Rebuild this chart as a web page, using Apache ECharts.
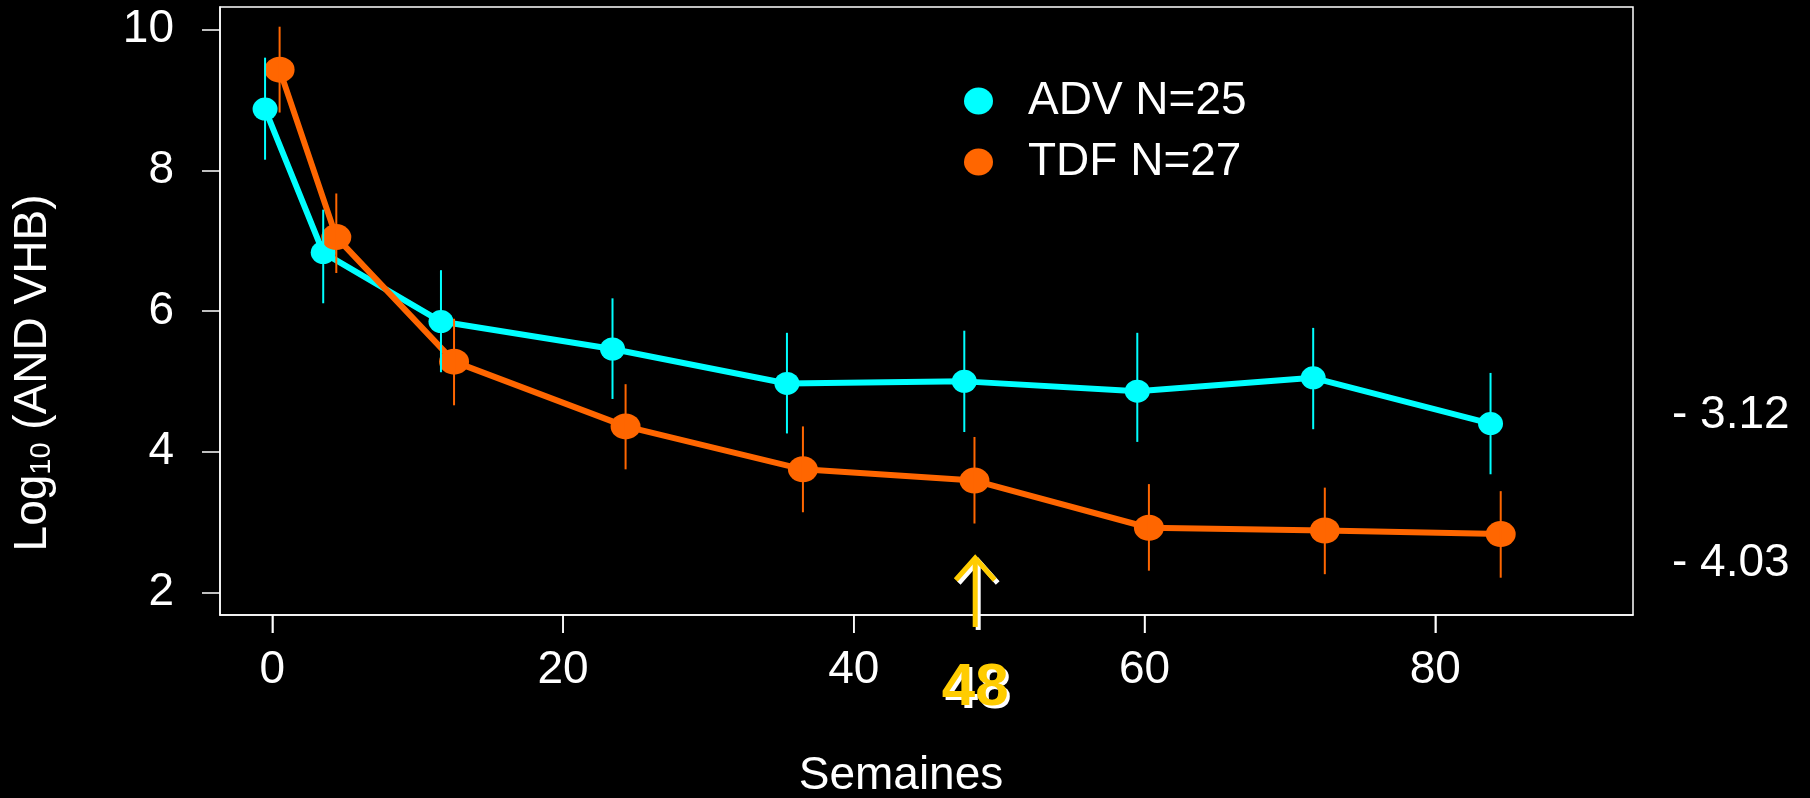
<!DOCTYPE html>
<html>
<head>
<meta charset="utf-8">
<script src="https://cdn.jsdelivr.net/npm/echarts@6/dist/echarts.min.js"></script>
<style>
  html, body { margin: 0; padding: 0; background: #000; }
  #chart { width: 1810px; height: 798px; }
</style>
</head>
<body>
<div id="chart"></div>
<script>
// Axis ticks
const weekTicks = [0, 20, 40, 60, 80];
const logTicks = [2, 4, 6, 8, 10];

// ADV arm: weeks (slightly dodged left), mean log10 HBV DNA, error bar ends
const advWeeks = [-0.5, 3.5, 11.6, 23.4, 35.4, 47.6, 59.5, 71.6, 83.8];
const advMean  = [8.87, 6.83, 5.85, 5.46, 4.97, 5.00, 4.86, 5.05, 4.40];
const advLow   = [8.15, 6.11, 5.13, 4.75, 4.26, 4.28, 4.14, 4.32, 3.68];
const advHigh  = [9.60, 7.44, 6.58, 6.18, 5.69, 5.72, 5.69, 5.76, 5.12];

// TDF arm: weeks (slightly dodged right), mean log10 HBV DNA, error bar ends
const tdfWeeks = [0.5, 4.4, 12.5, 24.3, 36.5, 48.3, 60.3, 72.4, 84.5];
const tdfMean  = [9.43, 7.05, 5.28, 4.36, 3.75, 3.59, 2.92, 2.88, 2.83];
const tdfLow   = [8.82, 6.54, 4.66, 3.75, 3.14, 2.98, 2.31, 2.26, 2.21];
const tdfHigh  = [10.04, 7.67, 5.89, 4.96, 4.36, 4.21, 3.54, 3.49, 3.44];

// Series names
const advName = 'ADV N=25';
const tdfName = 'TDF N=27';

// Overall decline per arm, written beside the plot at these log levels
const declineTexts  = ['- 3.12', '- 4.03'];
const declineLevels = [4.52, 2.41];

// Week 48 marker
const markWeek = 48;
const markArrowX = 48.35;
const markArrowTop = 2.49;
const markArrowBase = 1.51;
const markLabelLevel = 0.63;

const CYAN = '#00FFFF';
const ORANGE = '#FF6600';
const YELLOW = '#FFCC00';
const FONT = '"Liberation Sans", Arial, Helvetica, sans-serif';
const ELLIPSE = 'path://M0,50A50,50,0,1,1,100,50A50,50,0,1,1,0,50Z';
const Y_MIN = 1.68;
const Y_MAX = 10.32;
const TICK_LEN = 18;

const pairs = (xs, ys) => xs.map((x, i) => [x, ys[i]]);
const ranges = (xs, lo, hi) => xs.map((x, i) => [x, lo[i], hi[i]]);

function errorBars(name, xs, lo, hi, color) {
  return {
    type: 'custom',
    name: name,
    data: ranges(xs, lo, hi),
    encode: { x: 0, y: [1, 2] },
    z: 5,
    silent: true,
    clip: false,
    renderItem: function (params, api) {
      const a = api.coord([api.value(0), api.value(1)]);
      const b = api.coord([api.value(0), api.value(2)]);
      return {
        type: 'line',
        shape: { x1: a[0], y1: a[1], x2: b[0], y2: b[1] },
        style: { stroke: color, lineWidth: 2 }
      };
    }
  };
}

// Outward week ticks hanging under the frame
function weekTickSeries() {
  return {
    type: 'custom',
    name: 'semaines ticks',
    data: weekTicks.map((w) => [w, Y_MIN]),
    encode: { x: 0, y: 1 },
    z: 6,
    silent: true,
    clip: false,
    renderItem: function (params, api) {
      const p = api.coord([api.value(0), api.value(1)]);
      return {
        type: 'line',
        shape: { x1: p[0], y1: p[1], x2: p[0], y2: p[1] + TICK_LEN },
        style: { stroke: '#ffffff', lineWidth: 1.5 }
      };
    }
  };
}

function lineSeries(name, xs, ys, color, size, z) {
  return {
    type: 'line',
    name: name,
    data: pairs(xs, ys),
    symbol: ELLIPSE,
    symbolSize: size,
    showSymbol: true,
    showAllSymbol: true,
    clip: false,
    z: z,
    lineStyle: { color: color, width: 6 },
    itemStyle: { color: color, borderWidth: 0 },
    emphasis: { disabled: true }
  };
}

const axisLineStyle = { color: '#ffffff', width: 1.5 };

const chart = echarts.init(document.getElementById('chart'), null, { renderer: 'canvas' });

chart.setOption({
  backgroundColor: '#000',
  animation: false,
  grid: {
    left: 220, right: 177, top: 7, bottom: 183,
    show: true, borderColor: '#ffffff', borderWidth: 1.5,
    backgroundColor: 'transparent'
  },
  legend: {
    orient: 'vertical',
    left: 959,
    top: 69,
    itemWidth: 29,
    itemHeight: 27,
    itemGap: 7,
    symbolKeepAspect: false,
    selectedMode: false,
    data: [{ name: advName, icon: ELLIPSE }, { name: tdfName, icon: ELLIPSE }],
    textStyle: { color: '#fff', fontSize: 46, fontFamily: FONT, lineHeight: 46, padding: [8, 0, 0, 30] }
  },
  xAxis: {
    type: 'value',
    position: 'bottom',
    min: -3.6,
    max: 93.6,
    splitLine: { show: false },
    axisLine: { show: true, onZero: false, lineStyle: axisLineStyle },
    axisTick: { show: true, inside: false, customValues: weekTicks, length: TICK_LEN, lineStyle: axisLineStyle },
    axisLabel: { customValues: weekTicks, color: '#fff', fontSize: 46, fontFamily: FONT, margin: 32 }
  },
  yAxis: {
    type: 'value',
    position: 'left',
    min: Y_MIN,
    max: Y_MAX,
    splitLine: { show: false },
    axisLine: { show: true, onZero: false, lineStyle: axisLineStyle },
    axisTick: { show: true, inside: false, customValues: logTicks, length: TICK_LEN, lineStyle: axisLineStyle },
    axisLabel: { customValues: logTicks, color: '#fff', fontSize: 46, fontFamily: FONT, margin: 46 }
  },
  series: [
    lineSeries(advName, advWeeks, advMean, CYAN, [25, 23], 2),
    lineSeries(tdfName, tdfWeeks, tdfMean, ORANGE, [30, 26], 3),
    errorBars('ADV barres', advWeeks, advLow, advHigh, CYAN),
    errorBars('TDF barres', tdfWeeks, tdfLow, tdfHigh, ORANGE),
    weekTickSeries()
  ]
});

// Annotations placed through the grid's coordinate system
const px = (x, y) => chart.convertToPixel({ gridIndex: 0 }, [x, y]);
const tip = px(markArrowX, markArrowTop);
const base = px(markArrowX, markArrowBase);
const markLabel = px(markArrowX, markLabelLevel);

const graphics = [];

function arrowShapes(dx, dy, color) {
  return [
    {
      type: 'line', silent: true, z: 20,
      shape: { x1: base[0] + dx, y1: base[1] + dy, x2: tip[0] + dx, y2: tip[1] + dy + 2 },
      style: { stroke: color, lineWidth: 5 }
    },
    {
      type: 'polyline', silent: true, z: 20,
      shape: { points: [[tip[0] - 19.5 + dx, tip[1] + 22 + dy], [tip[0] + dx, tip[1] + dy], [tip[0] + 19.5 + dx, tip[1] + 22 + dy]] },
      style: { stroke: color, lineWidth: 5, fill: null, lineJoin: 'miter' }
    }
  ];
}

graphics.push(...arrowShapes(3, 3, '#ffffff'));
graphics.push(...arrowShapes(0, 0, YELLOW));
graphics.push({
  type: 'text', silent: true, z: 20,
  x: markLabel[0] + 3, y: markLabel[1] + 3,
  style: { text: String(markWeek), fill: '#ffffff', font: 'bold 60px ' + FONT, align: 'center', verticalAlign: 'middle' }
});
graphics.push({
  type: 'text', silent: true, z: 21,
  x: markLabel[0], y: markLabel[1],
  style: { text: String(markWeek), fill: YELLOW, font: 'bold 60px ' + FONT, align: 'center', verticalAlign: 'middle' }
});

declineTexts.forEach((t, i) => {
  const p = px(0, declineLevels[i]);
  graphics.push({
    type: 'text', silent: true,
    x: 1672, y: p[1],
    style: { text: t, fill: '#fff', font: '46px ' + FONT, align: 'left', verticalAlign: 'middle' }
  });
});

// Axis titles
graphics.push({
  type: 'text', silent: true,
  x: 901, y: 776,
  style: { text: 'Semaines', fill: '#fff', font: '46px ' + FONT, align: 'center', verticalAlign: 'middle' }
});
graphics.push({
  type: 'text', silent: true,
  x: 33, y: 373,
  rotation: Math.PI / 2,
  style: {
    text: '{a|Log}{s|10}{a| (AND VHB)}',
    align: 'center',
    verticalAlign: 'middle',
    rich: {
      a: { fill: '#fff', fontSize: 46, fontFamily: FONT, lineHeight: 46 },
      s: { fill: '#fff', fontSize: 29, fontFamily: FONT, lineHeight: 12, verticalAlign: 'bottom' }
    }
  }
});

chart.setOption({ graphic: graphics });
</script>
</body>
</html>
